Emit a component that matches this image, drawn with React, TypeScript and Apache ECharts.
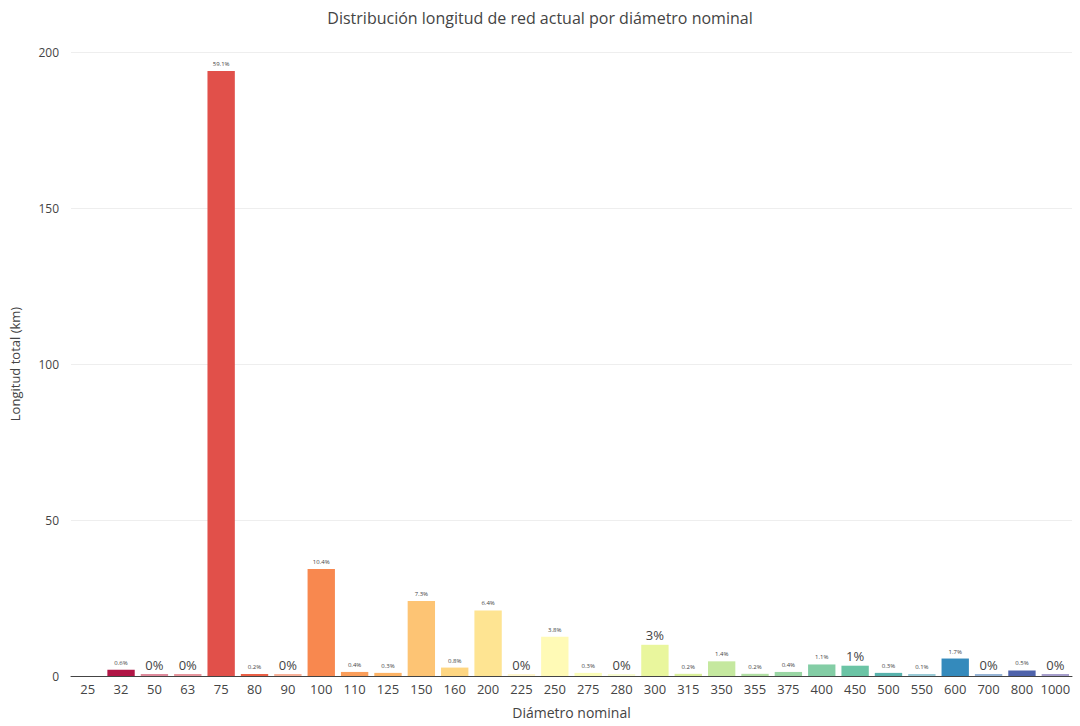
import React, { useEffect, useRef } from "react";
import * as echarts from "echarts";

// Nominal pipe diameters (mm)
const diameters = [
  "25", "32", "50", "63", "75", "80", "90", "100", "110", "125",
  "150", "160", "200", "225", "250", "275", "280", "300", "315", "350",
  "355", "375", "400", "450", "500", "550", "600", "700", "800", "1000",
];

// Current network length per diameter (km)
const lengthKm: (number | null)[] = [
  null, 2.0, 0.1, 0.1, 193.9, 0.6, 0.1, 34.3, 1.3, 1.0,
  24.0, 2.7, 21.0, 0.1, 12.6, 1.0, 0.1, 10.0, 0.7, 4.7,
  0.7, 1.3, 3.7, 3.3, 1.0, 0.4, 5.6, 0.1, 1.8, 0.1,
];

const yTicks = { min: 0, max: 200, interval: 50 };

const TITLE = "Distribución longitud de red actual por diámetro nominal";
const X_NAME = "Diámetro nominal";
const Y_NAME = "Longitud total (km)";

// Spectral colour ramp anchors
const spectral = [
  "#9e0142", "#d53e4f", "#f46d43", "#fdae61", "#fee08b", "#ffffbf",
  "#e6f598", "#abdda4", "#66c2a5", "#3288bd", "#5e4fa2",
];

function hexToRgb(h: string) {
  const n = parseInt(h.slice(1), 16);
  return [(n >> 16) & 255, (n >> 8) & 255, n & 255];
}

// colour along the ramp at t in [0,1], optionally washed towards white
function rampColor(t: number, wash = 0) {
  const pos = t * (spectral.length - 1);
  const i = Math.min(Math.floor(pos), spectral.length - 2);
  const f = pos - i;
  const a = hexToRgb(spectral[i]);
  const b = hexToRgb(spectral[i + 1]);
  const c = a.map((v, k) => {
    const m = v + (b[k] - v) * f;
    return Math.round(m + (255 - m) * wash);
  });
  return `rgb(${c[0]},${c[1]},${c[2]})`;
}

function pctText(v: number, total: number) {
  const p = Math.round((v / total) * 1000) / 10;
  return `${p.toFixed(1).replace(/\.0$/, "")}%`;
}

export default function App() {
  const ref = useRef<HTMLDivElement>(null);

  useEffect(() => {
    if (!ref.current) return;
    const chart = echarts.init(ref.current, undefined, { renderer: "svg" });
    const total = lengthKm.reduce((s: number, v) => s + (v ?? 0), 0);
    const n = diameters.length;

    const data = lengthKm.map((v, i) => {
      const t = i / (n - 1);
      if (v === null) return { value: null as any, itemStyle: { color: rampColor(t) } };
      const txt = pctText(v, total);
      const short = txt.length <= 2;
      return {
        value: v,
        // near-zero bars show only as a faint sliver
        itemStyle: { color: rampColor(t, v < 0.5 ? 0.45 : 0) },
        label: {
          show: true,
          position: "top" as const,
          distance: short ? 3 : 4,
          formatter: txt,
          fontSize: short ? 13 : 6,
          color: "#444",
          fontFamily: "Open Sans",
        },
      };
    });

    chart.setOption({
      animation: false,
      backgroundColor: "#fff",
      textStyle: { fontFamily: "Open Sans" },
      title: {
        text: TITLE,
        left: "center",
        top: 5,
        textStyle: { fontSize: 16, fontWeight: "normal", color: "#444", fontFamily: "Open Sans" },
      },
      grid: { left: 68, right: 8, top: 52, bottom: 50, containLabel: false },
      xAxis: {
        type: "category",
        data: diameters,
        name: X_NAME,
        nameLocation: "middle",
        nameGap: 29,
        nameTextStyle: { fontSize: 14, color: "#444" },
        axisLine: { show: true, lineStyle: { color: "#444", width: 1 } },
        axisTick: { show: false },
        axisLabel: { interval: 0, fontSize: 13, color: "#444", margin: 6 },
      },
      yAxis: {
        type: "value",
        min: yTicks.min,
        max: yTicks.max,
        interval: yTicks.interval,
        name: Y_NAME,
        nameLocation: "middle",
        nameGap: 50,
        nameTextStyle: { fontSize: 13, color: "#444" },
        axisLine: { show: false },
        axisTick: { show: false },
        axisLabel: { fontSize: 12, color: "#444", margin: 12 },
        splitLine: { lineStyle: { color: "#eeeeee", width: 1 } },
      },
      series: [
        {
          type: "bar",
          data,
          barCategoryGap: "18%",
          barMinHeight: 2,
        },
      ],
    });

    return () => chart.dispose();
  }, []);

  return (
    <div
      ref={ref}
      style={{ position: "fixed", left: 0, top: 0, width: 1080, height: 726 }}
    />
  );
}
